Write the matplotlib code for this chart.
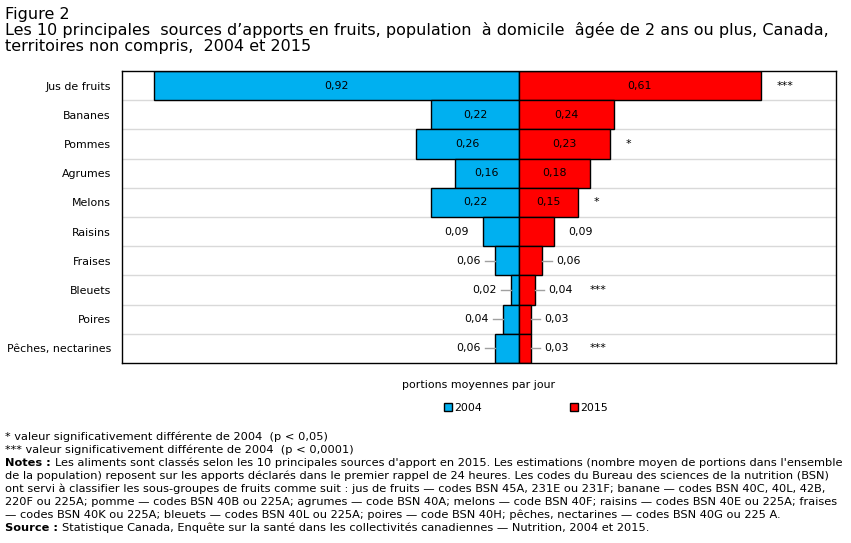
import numpy as np
import matplotlib
matplotlib.use("Agg")
import matplotlib.pyplot as plt
from matplotlib.patches import Patch

# data
categories = ["Jus de fruits", "Bananes", "Pommes", "Agrumes", "Melons",
              "Raisins", "Fraises", "Bleuets", "Poires", "Pêches, nectarines"]
val_2004 = [0.92, 0.22, 0.26, 0.16, 0.22, 0.09, 0.06, 0.02, 0.04, 0.06]
val_2015 = [0.61, 0.24, 0.23, 0.18, 0.15, 0.09, 0.06, 0.04, 0.03, 0.03]
signif = ["***", "", "*", "", "*", "", "", "***", "", "***"]

title_lines = [
    "Figure 2",
    "Les 10 principales  sources d’apports en fruits, population  à domicile  âgée de 2 ans ou plus, Canada,",
    "territoires non compris,  2004 et 2015",
]
foot_lines = [
    "* valeur significativement différente de 2004  (p < 0,05)",
    "*** valeur significativement différente de 2004  (p < 0,0001)",
]
notes_lines = [
    "Les aliments sont classés selon les 10 principales sources d'apport en 2015. Les estimations (nombre moyen de portions dans l'ensemble",
    "de la population) reposent sur les apports déclarés dans le premier rappel de 24 heures. Les codes du Bureau des sciences de la nutrition (BSN)",
    "ont servi à classifier les sous-groupes de fruits comme suit : jus de fruits — codes BSN 45A, 231E ou 231F; banane — codes BSN 40C, 40L, 42B,",
    "220F ou 225A; pomme — codes BSN 40B ou 225A; agrumes — code BSN 40A; melons — code BSN 40F; raisins — codes BSN 40E ou 225A; fraises",
    "— codes BSN 40K ou 225A; bleuets — codes BSN 40L ou 225A; poires — code BSN 40H; pêches, nectarines — codes BSN 40G ou 225 A.",
]
source_line = "Statistique Canada, Enquête sur la santé dans les collectivités canadiennes — Nutrition, 2004 et 2015."

BLUE = "#00B0F0"
RED = "#FF0000"
W, H = 851, 543

fig = plt.figure(figsize=(W / 100, H / 100), dpi=100)
ax = fig.add_axes([122 / W, 1 - 363 / H, (836 - 122) / W, (363 - 71) / H])

y = np.arange(len(categories))
b04 = np.array(val_2004)
b15 = np.array(val_2015)

ax.barh(y, -b04, height=1.0, color=BLUE, edgecolor="black", linewidth=1)
ax.barh(y, b15, height=1.0, color=RED, edgecolor="black", linewidth=1)

ax.set_xlim(-1.0, 0.8)
ax.set_ylim(len(categories) - 0.5, -0.5)
ax.set_yticks(y)
ax.set_yticklabels(categories, fontsize=7.9)
ax.tick_params(axis="y", length=0, pad=8)
ax.set_xticks([])
for s in ax.spines.values():
    s.set_color("black")
    s.set_linewidth(1)
for k in range(1, len(categories)):
    ax.axhline(k - 0.5, color="#d9d9d9", lw=1, zorder=0)

lab = dict(fontsize=7.9, va="center")
for i in range(len(categories)):
    v1, v2 = b04[i], b15[i]
    t1 = f"{v1:.2f}".replace(".", ",")
    t2 = f"{v2:.2f}".replace(".", ",")
    if v1 >= 0.15:
        ax.text(-v1 / 2, i, t1, ha="center", **lab)
    else:
        if v1 < 0.08:
            ax.plot([-v1 - 0.025, -v1], [i, i], color="#a0a0a0", lw=1)
        ax.text(-v1 - 0.035, i, t1, ha="right", **lab)
    if v2 >= 0.15:
        ax.text(v2 / 2, i, t2, ha="center", **lab)
    else:
        if v2 < 0.08:
            ax.plot([v2, v2 + 0.025], [i, i], color="#a0a0a0", lw=1)
        ax.text(v2 + 0.035, i, t2, ha="left", **lab)
    if signif[i]:
        ax.text(max(v2, 0.14) + 0.04, i, signif[i], ha="left", **lab)

ax.set_xlabel("portions moyennes par jour", fontsize=7.9, labelpad=12)

handles = [Patch(facecolor=BLUE, edgecolor="black", label="2004"),
           Patch(facecolor=RED, edgecolor="black", label="2015")]
fig.legend(handles=handles, loc="center", bbox_to_anchor=(526 / W, 1 - 408 / H),
           ncol=2, frameon=False, fontsize=7.9, handlelength=0.7, handleheight=0.7,
           handletextpad=0.2, columnspacing=8.0)

# title
for k, line in enumerate(title_lines):
    fig.text(5 / W, 1 - (14 + 16.5 * k) / H, line, fontsize=11.5, va="center")

# footnotes
fs = 8.2
step = 13
ypix = 437
for line in foot_lines:
    fig.text(5 / W, 1 - ypix / H, line, fontsize=fs, va="center")
    ypix += step

fig.canvas.draw()
r = fig.canvas.get_renderer()
t = fig.text(5 / W, 1 - ypix / H, "Notes :", fontsize=fs, va="center", weight="bold")
x_end = t.get_window_extent(r).x1
fig.text((x_end + 4) / W, 1 - ypix / H, notes_lines[0], fontsize=fs, va="center")
ypix += step
for line in notes_lines[1:]:
    fig.text(5 / W, 1 - ypix / H, line, fontsize=fs, va="center")
    ypix += step
t = fig.text(5 / W, 1 - ypix / H, "Source :", fontsize=fs, va="center", weight="bold")
x_end = t.get_window_extent(r).x1
fig.text((x_end + 4) / W, 1 - ypix / H, source_line, fontsize=fs, va="center")

fig.savefig("out.png", dpi=100)
